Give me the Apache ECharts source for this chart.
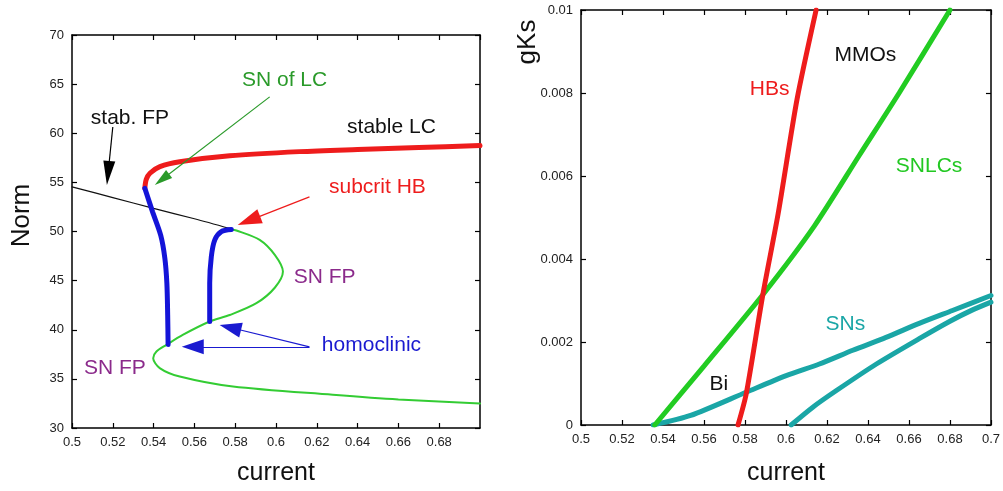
<!DOCTYPE html>
<html><head><meta charset="utf-8">
<script src="https://cdn.jsdelivr.net/npm/echarts@6/dist/echarts.min.js"></script>
<style>html,body{margin:0;padding:0;background:#fff}#c{width:1003px;height:491px}</style>
</head><body><div id="c"></div>
<script>
// ---- Left panel data (current, Norm) ----
const leftStableFP = [[0.5,54.55],[0.52,53.45],[0.54,52.35],[0.56,51.3],[0.5775,50.3]];
const leftStableLC = [[0.5357,54.4],[0.5364,55.3],[0.5382,55.93],[0.5431,56.6],[0.5528,57.1],[0.5773,57.7],[0.6115,58.13],[0.64,58.35],[0.67,58.55],[0.7,58.75]];
const leftSNFP = [[0.5781,50.2],[0.5806,50.1],[0.592,49.15],[0.5995,47.6],[0.6034,45.92],[0.5995,44.3],[0.5904,42.7],[0.5773,41.5],[0.5675,40.84],[0.5545,39.5],[0.5463,38.46],[0.5414,37.78],[0.5398,37.11],[0.543,36.1],[0.5528,35.24],[0.5789,34.22],[0.6278,33.38],[0.66,32.9],[0.7,32.5]];
const leftHomoclinic1 = [[0.5357,54.4],[0.5395,52.0],[0.5435,49.6],[0.5455,47.3],[0.5465,44.74],[0.5469,41.5],[0.5471,38.5]];
const leftHomoclinic2 = [[0.5675,40.84],[0.5675,44.74],[0.5683,47.45],[0.57,49.15],[0.5732,49.99],[0.5781,50.2]];

// ---- Right panel data (current, gKs) ----
const rightHBs = [[0.5766,0],[0.5806,0.00075],[0.5887,0.00314],[0.5962,0.0051],[0.6054,0.00785],[0.6147,0.01]];
const rightSNLCs = [[0.536,0],[0.56,0.00142],[0.5887,0.00314],[0.6139,0.0048],[0.6358,0.0065],[0.6552,0.008],[0.68,0.01]];
const rightSNsUpper = [[0.5352,0],[0.5535,0.00023],[0.5806,0.00079],[0.6001,0.00119],[0.6163,0.00147],[0.6326,0.0018],[0.6488,0.00211],[0.665,0.00245],[0.6812,0.00276],[0.7,0.00312]];
const rightSNsLower = [[0.6025,0],[0.6131,0.00043],[0.6246,0.00083],[0.6441,0.00147],[0.665,0.00208],[0.68,0.0025],[0.69,0.00275],[0.7,0.00296]];

// ---- Tick settings ----
const currentTicks = {min:0.5, max:0.7, interval:0.02};
const normTicks = {min:30, max:70, interval:5};
const gksTicks = {min:0, max:0.01, interval:0.002};

// ---- Annotations ----
const leftLabels = [
  ['stab. FP',0.5284,61.56,'#111'],
  ['SN of LC',0.6042,65.42,'#2a9a2a'],
  ['stable LC',0.6566,60.64,'#111'],
  ['subcrit HB',0.6497,54.54,'#ee1c1c'],
  ['SN FP',0.6238,45.38,'#8b2a8b'],
  ['SN FP',0.521,36.13,'#8b2a8b'],
  ['homoclinic',0.6468,38.46,'#1a1ad0']
];
const leftArrows = [
  [[0.52,60.64],[0.5177,55.96],'#000',[12,24]],
  [[0.5969,63.7],[0.5441,55.30],'#2a9a2a',[10,18]],
  [[0.6164,53.52],[0.5867,51.11],'#ee1c1c',[15,24]],
  [[0.6164,38.26],[0.5592,38.26],'#1a1ad0',[15,22]],
  [[0.6164,38.26],[0.5776,40.23],'#1a1ad0',[15,22]]
];
const rightLabels = [
  ['MMOs',0.6387,0.00892,'#111'],
  ['HBs',0.5920,0.00809,'#ee1c1c'],
  ['SNLCs',0.6698,0.00624,'#22c822'],
  ['SNs',0.6290,0.00242,'#1aa6a6'],
  ['Bi',0.5672,0.00098,'#111']
];

const tickFont = {fontFamily:'Liberation Sans, Arial', fontSize:13, color:'#222'};
const nameFont = {fontFamily:'Liberation Sans, Arial', fontSize:25, color:'#111'};
const annFont = 'Liberation Sans, Arial';

function mainAxis(t, extra){
  return Object.assign({
    type:'value', min:t.min, max:t.max, interval:t.interval,
    axisLine:{show:true, onZero:false, lineStyle:{color:'#000', width:1.5}},
    axisTick:{show:true, inside:true, length:5, lineStyle:{color:'#000', width:1.2}},
    axisLabel:Object.assign({margin:8}, tickFont),
    splitLine:{show:false}
  }, extra);
}
function mirrorAxis(t, extra){
  return Object.assign({
    type:'value', min:t.min, max:t.max, interval:t.interval,
    axisLine:{show:true, onZero:false, lineStyle:{color:'#000', width:1.5}},
    axisTick:{show:true, inside:true, length:5, lineStyle:{color:'#000', width:1.2}},
    axisLabel:{show:false}, splitLine:{show:false}
  }, extra);
}
function labelSeries(list, xi, yi){
  return {
    type:'scatter', xAxisIndex:xi, yAxisIndex:yi, symbolSize:0, silent:true, z:10,
    itemStyle:{opacity:1},
    data:list.map(l=>({name:l[0], value:[l[1],l[2]], label:{color:l[3]}})),
    label:{show:true, position:'inside', formatter:p=>p.name, fontFamily:annFont, fontSize:21, opacity:1}
  };
}
function lineSeries(data, color, width, xi, yi, z, sm){
  return {type:'line', xAxisIndex:xi, yAxisIndex:yi, data:data, showSymbol:false, smooth:(sm==null?0.3:sm),
    lineStyle:{color:color, width:width, cap:'round'}, z:z||2, silent:true};
}

const chart = echarts.init(document.getElementById('c'));
const arrowSeries = {
  type:'line', xAxisIndex:0, yAxisIndex:0, data:[], silent:true, z:8,
  markLine:{
    silent:true, animation:false,
    label:{show:false},
    data:leftArrows.map(a=>[
      {coord:a[0], symbol:'none', lineStyle:{color:a[2], width:1.2, type:'solid'}},
      {coord:a[1], symbol:'triangle', symbolSize:a[3], itemStyle:{color:a[2]}}
    ])
  }
};

chart.setOption({
  animation:false,
  grid:[
    {left:72, top:35, width:408, height:393},
    {left:581, top:10, width:411, height:418}
  ],
  xAxis:[
    mainAxis(currentTicks, {gridIndex:0, position:'bottom', axisLabel:Object.assign({margin:8, showMaxLabel:false}, tickFont),
      name:'current', nameLocation:'middle', nameGap:33, nameTextStyle:nameFont}),
    mirrorAxis(currentTicks, {gridIndex:0, position:'top'}),
    mainAxis(currentTicks, {gridIndex:1, position:'bottom',
      name:'current', nameLocation:'middle', nameGap:36, nameTextStyle:nameFont}),
    mirrorAxis(currentTicks, {gridIndex:1, position:'top'})
  ],
  yAxis:[
    mainAxis(normTicks, {gridIndex:0, position:'left',
      name:'Norm', nameLocation:'middle', nameGap:37, nameTextStyle:Object.assign({padding:[0,0,0,32]}, nameFont, {fontSize:26})}),
    mirrorAxis(normTicks, {gridIndex:0, position:'right'}),
    mainAxis(gksTicks, {gridIndex:1, position:'left'}),
    mirrorAxis(gksTicks, {gridIndex:1, position:'right'})
  ],
  graphic:[
    {type:'text', x:528, y:42, rotation:Math.PI/2, silent:true,
     style:{text:'gKs', font:'26px Liberation Sans, Arial', fill:'#111', textAlign:'center', textVerticalAlign:'middle'}}
  ],
  series:[
    lineSeries(leftStableFP, '#111', 1.2, 0, 0, 3),
    lineSeries(leftStableLC, '#ee1c1c', 5, 0, 0, 4),
    lineSeries(leftSNFP, '#33cc33', 2, 0, 0, 3),
    lineSeries(leftHomoclinic1, '#1414d8', 5, 0, 0, 5),
    lineSeries(leftHomoclinic2, '#1414d8', 5, 0, 0, 5),
    arrowSeries,
    labelSeries(leftLabels, 0, 0),
    lineSeries(rightSNsUpper, '#1aa6a6', 5, 2, 2, 3, 0.25),
    lineSeries(rightSNsLower, '#1aa6a6', 5, 2, 2, 3, 0.25),
    lineSeries(rightSNLCs, '#22cc22', 5, 2, 2, 4, 0.25),
    lineSeries(rightHBs, '#ee1c1c', 5, 2, 2, 5, 0.25),
    labelSeries(rightLabels, 2, 2)
  ]
});
</script></body></html>
